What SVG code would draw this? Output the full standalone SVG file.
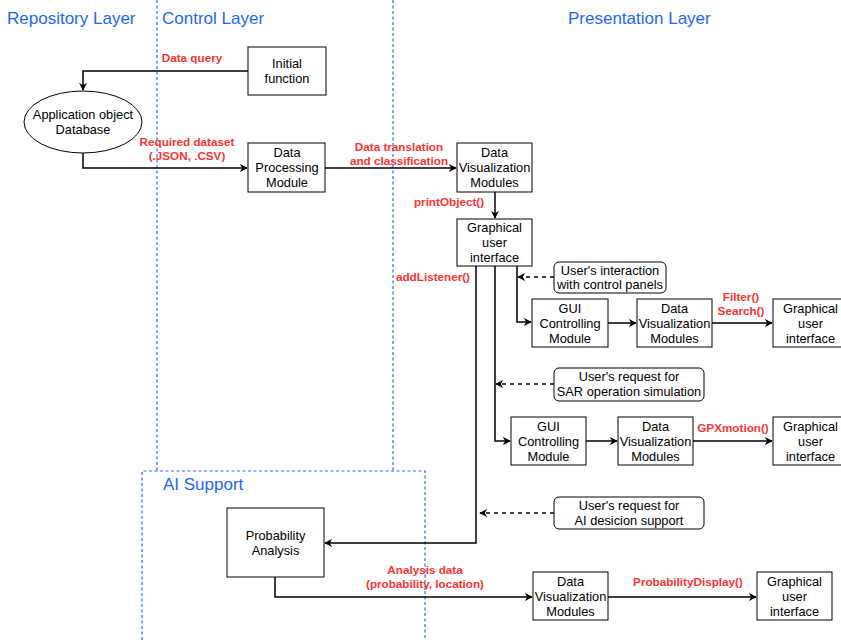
<svg xmlns="http://www.w3.org/2000/svg" width="841" height="640" viewBox="0 0 841 640">
<defs>
<style>
.lane{fill:none;stroke:#2a6aff;stroke-width:1.2;stroke-dasharray:3 2.5}
.title{font-family:"Liberation Sans",Arial,sans-serif;font-size:17px;fill:#1f66ff}
.box{fill:#fff;stroke:#000;stroke-width:1}
.t{font-family:"Liberation Sans",Arial,sans-serif;font-size:12.8px;fill:#000;text-anchor:middle}
.lbl{font-family:"Liberation Sans",Arial,sans-serif;font-size:11.7px;font-weight:bold;fill:#ff3333;text-anchor:middle}
.e{fill:none;stroke:#000;stroke-width:1.5}
.d{fill:none;stroke:#000;stroke-width:1.5;stroke-dasharray:4 4}
</style>
<marker id="ah" viewBox="0 0 10 10" refX="9" refY="5" markerWidth="8" markerHeight="8" markerUnits="userSpaceOnUse" orient="auto">
<path d="M0,0 L10,5 L0,10 L3,5 z" fill="#000"/>
</marker>
</defs>
<rect width="841" height="640" fill="#fff"/>
<g id="lanes">
<path class="lane" d="M157,0 V471"/>
<path class="lane" d="M393,0 V471"/>
<path class="lane" d="M142,640 V471 H425 V640"/>
<text class="title" x="7" y="24">Repository Layer</text>
<text class="title" x="162" y="24">Control Layer</text>
<text class="title" x="568" y="24">Presentation Layer</text>
<text class="title" x="163" y="490">AI Support</text>
</g>
<g id="connectors">
<path class="e" d="M248,71 H83 V90" marker-end="url(#ah)"/>
<path class="e" d="M83,153 V168 H247" marker-end="url(#ah)"/>
<path class="e" d="M325,168 H456" marker-end="url(#ah)"/>
<path class="e" d="M495,192 V218" marker-end="url(#ah)"/>
<path class="e" d="M517,266 V322 H531" marker-end="url(#ah)"/>
<path class="e" d="M495,266 V441 H510" marker-end="url(#ah)"/>
<path class="e" d="M476,266 V543 H325" marker-end="url(#ah)"/>
<path class="d" d="M554,277 H518" marker-end="url(#ah)"/>
<path class="d" d="M554,384 H496" marker-end="url(#ah)"/>
<path class="d" d="M554,513 H480" marker-end="url(#ah)"/>
<path class="e" d="M608,323 H636" marker-end="url(#ah)"/>
<path class="e" d="M712,323 H772" marker-end="url(#ah)"/>
<path class="e" d="M586,441 H617" marker-end="url(#ah)"/>
<path class="e" d="M693,441 H772" marker-end="url(#ah)"/>
<path class="e" d="M275,577 V597 H532" marker-end="url(#ah)"/>
<path class="e" d="M608,597 H756" marker-end="url(#ah)"/>
<text class="lbl" x="192" y="62">Data query</text>
<text class="lbl" x="187" y="146">Required dataset</text>
<text class="lbl" x="187" y="160">(.JSON, .CSV)</text>
<text class="lbl" x="399" y="151">Data translation</text>
<text class="lbl" x="399" y="165">and classification</text>
<text class="lbl" x="449" y="206">printObject()</text>
<text class="lbl" x="433" y="281">addListener()</text>
<text class="lbl" x="741" y="301">Filter()</text>
<text class="lbl" x="741" y="315">Search()</text>
<text class="lbl" x="733" y="432">GPXmotion()</text>
<text class="lbl" x="425" y="574">Analysis data</text>
<text class="lbl" x="425" y="588">(probability, location)</text>
<text class="lbl" x="688" y="586">ProbabilityDisplay()</text>
</g>
<g id="initial">
<rect class="box" x="248" y="47" width="78" height="48"/>
<text class="t" x="287" y="68">Initial</text>
<text class="t" x="287" y="83">function</text>
</g>
<g id="db">
<ellipse class="box" cx="83" cy="122" rx="59" ry="31"/>
<text class="t" x="83" y="119">Application object</text>
<text class="t" x="83" y="134">Database</text>
</g>
<g id="dpm">
<rect class="box" x="248" y="143" width="77" height="49"/>
<text class="t" x="287" y="157">Data</text>
<text class="t" x="287" y="172">Processing</text>
<text class="t" x="287" y="187">Module</text>
</g>
<g id="dvm1">
<rect class="box" x="457" y="143" width="75" height="49"/>
<text class="t" x="494.5" y="157">Data</text>
<text class="t" x="494.5" y="172">Visualization</text>
<text class="t" x="494.5" y="187">Modules</text>
</g>
<g id="gui1">
<rect class="box" x="457" y="219" width="75" height="47"/>
<text class="t" x="494.5" y="232">Graphical</text>
<text class="t" x="494.5" y="247">user</text>
<text class="t" x="494.5" y="262">interface</text>
</g>
<g id="note1">
<rect class="box" x="554" y="262" width="112" height="31" rx="5"/>
<text class="t" x="610" y="275">User's interaction</text>
<text class="t" x="610" y="289">with control panels</text>
</g>
<g id="gcm1">
<rect class="box" x="532" y="299" width="76" height="48"/>
<text class="t" x="570" y="313">GUI</text>
<text class="t" x="570" y="328">Controlling</text>
<text class="t" x="570" y="343">Module</text>
</g>
<g id="dvm2">
<rect class="box" x="637" y="299" width="75" height="48"/>
<text class="t" x="674.5" y="313">Data</text>
<text class="t" x="674.5" y="328">Visualization</text>
<text class="t" x="674.5" y="343">Modules</text>
</g>
<g id="gui2">
<rect class="box" x="773" y="299" width="75" height="48"/>
<text class="t" x="810.5" y="313">Graphical</text>
<text class="t" x="810.5" y="328">user</text>
<text class="t" x="810.5" y="343">interface</text>
</g>
<g id="note2">
<rect class="box" x="554" y="368" width="150" height="33" rx="5"/>
<text class="t" x="629" y="381">User's request for</text>
<text class="t" x="629" y="396">SAR operation simulation</text>
</g>
<g id="gcm2">
<rect class="box" x="511" y="417" width="75" height="48"/>
<text class="t" x="548.5" y="431">GUI</text>
<text class="t" x="548.5" y="446">Controlling</text>
<text class="t" x="548.5" y="461">Module</text>
</g>
<g id="dvm3">
<rect class="box" x="618" y="417" width="75" height="48"/>
<text class="t" x="655.5" y="431">Data</text>
<text class="t" x="655.5" y="446">Visualization</text>
<text class="t" x="655.5" y="461">Modules</text>
</g>
<g id="gui3">
<rect class="box" x="773" y="417" width="75" height="48"/>
<text class="t" x="810.5" y="431">Graphical</text>
<text class="t" x="810.5" y="446">user</text>
<text class="t" x="810.5" y="461">interface</text>
</g>
<g id="note3">
<rect class="box" x="554" y="497" width="150" height="32" rx="5"/>
<text class="t" x="629" y="510">User's request for</text>
<text class="t" x="629" y="525">AI desicion support</text>
</g>
<g id="pa">
<rect class="box" x="227" y="508" width="97" height="69"/>
<text class="t" x="275.5" y="540">Probability</text>
<text class="t" x="275.5" y="555">Analysis</text>
</g>
<g id="dvm4">
<rect class="box" x="533" y="572" width="75" height="48"/>
<text class="t" x="570.5" y="586">Data</text>
<text class="t" x="570.5" y="601">Visualization</text>
<text class="t" x="570.5" y="616">Modules</text>
</g>
<g id="gui4">
<rect class="box" x="757" y="572" width="75" height="48"/>
<text class="t" x="794.5" y="586">Graphical</text>
<text class="t" x="794.5" y="601">user</text>
<text class="t" x="794.5" y="616">interface</text>
</g>
</svg>
